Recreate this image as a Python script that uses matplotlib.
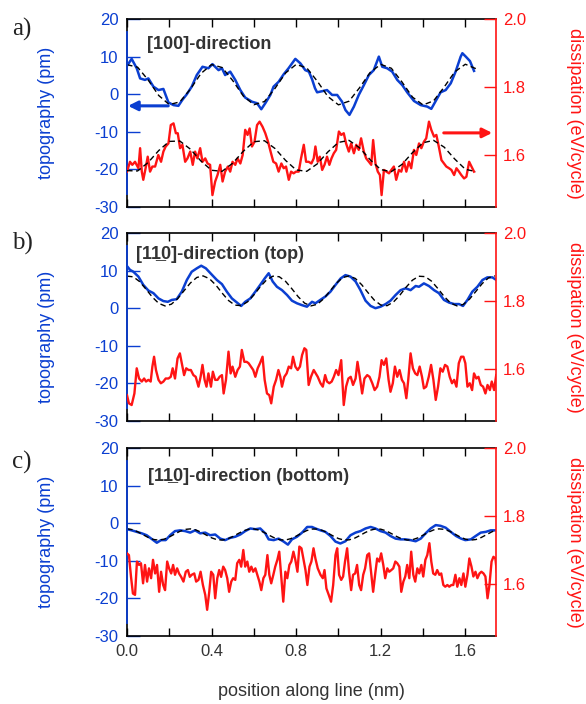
import numpy as np
import matplotlib
matplotlib.use('Agg')
import matplotlib.pyplot as plt
from matplotlib.ticker import MultipleLocator, FormatStrFormatter

plt.rcParams['font.family'] = ['Liberation Sans', 'DejaVu Sans']
plt.rcParams['axes.unicode_minus'] = False

BLUE = '#0b3fd1'
RED = '#ff1414'
GREY = '#333333'

# ---- panel a: [100]-direction ----
# topography (pm) as (position nm, value)
topo_a = [(0.003, 7.8), (0.022, 9.4), (0.046, 6.9), (0.062, 4.2), (0.085, 3.8), (0.101, 4.2), (0.125, 2.0),
          (0.149, 1.1), (0.172, 1.4), (0.196, -2.2), (0.220, -2.9), (0.243, -3.1), (0.262, -1.5), (0.283, 0.0),
          (0.306, 2.0), (0.330, 5.1), (0.357, 7.3), (0.385, 6.9), (0.404, 8.0), (0.433, 6.4), (0.449, 6.9),
          (0.464, 5.1), (0.488, 6.0), (0.512, 3.8), (0.536, 1.1), (0.559, -0.9), (0.591, -2.0), (0.615, -2.4),
          (0.635, -4.0), (0.654, -2.4), (0.678, -0.2), (0.693, 2.0), (0.717, 3.3), (0.741, 5.3), (0.764, 6.9),
          (0.796, 9.4), (0.820, 8.2), (0.843, 6.4), (0.860, 6.0), (0.875, 4.0), (0.889, 1.6), (0.899, 0.5),
          (0.923, 0.8), (0.946, 1.1), (0.970, -0.2), (0.994, -0.2), (1.017, -2.0), (1.033, -4.2), (1.052, -5.5),
          (1.073, -3.3), (1.096, -0.2), (1.120, 2.4), (1.144, 5.1), (1.167, 6.4), (1.191, 10.0), (1.207, 7.3),
          (1.230, 6.9), (1.254, 6.0), (1.278, 3.8), (1.302, 2.4), (1.325, 0.5), (1.357, -1.8), (1.389, -2.9),
          (1.420, -3.3), (1.439, -3.9), (1.460, -1.8), (1.483, 0.5), (1.507, 1.1), (1.531, 2.9), (1.554, 6.0),
          (1.578, 10.0), (1.586, 10.9), (1.602, 10.0), (1.622, 8.8), (1.641, 6.2)]
# dissipation (eV/cycle)
diss_a = [(0.000, 1.551), (0.014, 1.580), (0.025, 1.571), (0.038, 1.580), (0.054, 1.561), (0.062, 1.620),
          (0.070, 1.551), (0.077, 1.527), (0.088, 1.561), (0.098, 1.595), (0.109, 1.551), (0.120, 1.566),
          (0.133, 1.566), (0.148, 1.600), (0.161, 1.580), (0.172, 1.610), (0.183, 1.625), (0.196, 1.634),
          (0.207, 1.688), (0.220, 1.693), (0.231, 1.664), (0.240, 1.664), (0.251, 1.620), (0.262, 1.630),
          (0.275, 1.580), (0.286, 1.590), (0.299, 1.610), (0.311, 1.571), (0.322, 1.610), (0.333, 1.590),
          (0.346, 1.620), (0.357, 1.580), (0.370, 1.590), (0.381, 1.575), (0.393, 1.571), (0.404, 1.482),
          (0.417, 1.522), (0.428, 1.541), (0.441, 1.571), (0.452, 1.522), (0.464, 1.551), (0.477, 1.566),
          (0.488, 1.551), (0.499, 1.580), (0.512, 1.571), (0.523, 1.590), (0.536, 1.575), (0.547, 1.600),
          (0.559, 1.674), (0.570, 1.659), (0.580, 1.678), (0.591, 1.625), (0.603, 1.639), (0.615, 1.688),
          (0.627, 1.698), (0.641, 1.683), (0.654, 1.664), (0.667, 1.639), (0.679, 1.610), (0.692, 1.580),
          (0.705, 1.575), (0.717, 1.551), (0.730, 1.575), (0.741, 1.561), (0.752, 1.566), (0.765, 1.527),
          (0.776, 1.551), (0.788, 1.546), (0.799, 1.551), (0.812, 1.551), (0.823, 1.590), (0.836, 1.630),
          (0.847, 1.580), (0.859, 1.580), (0.872, 1.575), (0.883, 1.590),
          (0.891, 1.625), (0.902, 1.580), (0.912, 1.595), (0.923, 1.556), (0.934, 1.571), (0.946, 1.595),
          (0.957, 1.571), (0.967, 1.590), (0.978, 1.605), (0.989, 1.615), (1.002, 1.669), (1.013, 1.659),
          (1.025, 1.664), (1.036, 1.634), (1.049, 1.610), (1.060, 1.634), (1.073, 1.605), (1.084, 1.630),
          (1.096, 1.615), (1.107, 1.649), (1.120, 1.610), (1.131, 1.590), (1.144, 1.580), (1.155, 1.571),
          (1.164, 1.644), (1.175, 1.575), (1.186, 1.551), (1.196, 1.541), (1.204, 1.482), (1.215, 1.556),
          (1.227, 1.551), (1.239, 1.546), (1.250, 1.556), (1.262, 1.566), (1.273, 1.527), (1.286, 1.556),
          (1.297, 1.551), (1.310, 1.580), (1.321, 1.551), (1.333, 1.580), (1.344, 1.561), (1.357, 1.615),
          (1.368, 1.600), (1.381, 1.634), (1.392, 1.620), (1.404, 1.639), (1.415, 1.649), (1.428, 1.698),
          (1.439, 1.674), (1.452, 1.654), (1.463, 1.659), (1.476, 1.620), (1.487, 1.585), (1.499, 1.575),
          (1.510, 1.566), (1.523, 1.561), (1.534, 1.556), (1.547, 1.541), (1.558, 1.561), (1.570, 1.551),
          (1.581, 1.541), (1.594, 1.531), (1.605, 1.536), (1.618, 1.580), (1.629, 1.566), (1.641, 1.551)]
fit_x_a = np.linspace(0, 1.65, 34)
fit_topo_a = [7.85, 7.19, 3.79, -0.34, -2.77, -2.04, 1.37, 5.52, 7.89, 7.09,
              3.62, -0.49, -2.80, -1.95, 1.55, 5.65, 7.92, 7.00, 3.45, -0.62,
              -2.83, -1.86, 1.73, 5.79, 7.94, 6.90, 3.28, -0.77, -2.86, -1.76,
              1.91, 5.95, 7.97, 6.79]
fit_diss_a = [1.554, 1.553, 1.578, 1.613, 1.640, 1.641, 1.617, 1.582, 1.555, 1.552,
              1.576, 1.611, 1.639, 1.642, 1.619, 1.584, 1.556, 1.552, 1.574, 1.609,
              1.637, 1.643, 1.621, 1.586, 1.557, 1.551, 1.572, 1.607, 1.636, 1.643,
              1.623, 1.588, 1.558, 1.551]

# ---- panel b: [1-10]-direction (top) ----
topo_b = [(0.000, 11.2), (0.014, 10.2), (0.030, 9.7), (0.054, 8.4), (0.077, 6.2), (0.101, 4.7), (0.125, 4.0),
          (0.149, 2.6), (0.172, 1.9), (0.193, 1.7), (0.212, 2.2), (0.235, 2.4), (0.259, 4.4), (0.283, 7.5),
          (0.306, 9.7), (0.330, 10.6), (0.351, 11.3), (0.373, 10.6), (0.398, 9.1), (0.425, 7.5), (0.449, 6.4),
          (0.472, 4.4), (0.496, 2.6), (0.520, 1.5), (0.540, 0.6), (0.559, 1.7), (0.583, 2.6), (0.607, 4.4),
          (0.630, 6.2), (0.651, 7.9), (0.670, 9.3), (0.689, 7.1), (0.709, 5.7), (0.733, 4.8), (0.757, 3.5),
          (0.780, 2.0), (0.804, 1.3), (0.828, 0.8), (0.851, 0.4), (0.875, 1.7), (0.891, 1.3), (0.914, 2.2),
          (0.938, 3.1), (0.962, 4.4), (0.986, 6.2), (1.010, 7.9), (1.033, 8.8), (1.057, 8.4), (1.081, 7.1),
          (1.104, 4.8), (1.128, 2.0), (1.152, 0.6), (1.175, 0.0), (1.199, 0.4), (1.223, 1.1), (1.246, 2.0),
          (1.270, 3.5), (1.294, 4.8), (1.318, 5.3), (1.341, 4.8), (1.365, 5.9), (1.381, 5.7), (1.404, 6.6),
          (1.428, 5.9), (1.452, 4.8), (1.475, 4.0), (1.499, 2.2), (1.523, 1.5), (1.547, 1.1), (1.570, 1.1),
          (1.589, 0.6), (1.610, 2.2), (1.633, 4.4), (1.657, 5.7), (1.681, 7.5), (1.704, 8.2), (1.728, 8.2),
          (1.744, 7.6)]
diss_b = [(0.000, 1.523), (0.009, 1.499), (0.022, 1.494), (0.035, 1.528), (0.046, 1.602), (0.057, 1.572),
          (0.070, 1.563), (0.081, 1.572), (0.090, 1.563), (0.101, 1.568), (0.112, 1.563), (0.120, 1.607),
          (0.128, 1.636), (0.137, 1.597), (0.149, 1.568), (0.160, 1.558), (0.172, 1.563), (0.183, 1.572),
          (0.196, 1.572), (0.207, 1.577), (0.216, 1.602), (0.227, 1.572), (0.239, 1.631), (0.250, 1.646),
          (0.259, 1.617), (0.270, 1.582), (0.280, 1.602), (0.291, 1.597), (0.302, 1.597), (0.314, 1.582),
          (0.325, 1.577), (0.338, 1.548), (0.348, 1.577), (0.357, 1.612), (0.367, 1.568), (0.376, 1.548),
          (0.385, 1.587), (0.397, 1.548), (0.406, 1.592), (0.417, 1.568), (0.428, 1.568), (0.438, 1.577),
          (0.449, 1.582), (0.457, 1.528), (0.468, 1.568), (0.480, 1.651), (0.490, 1.587), (0.499, 1.607),
          (0.512, 1.577), (0.523, 1.597), (0.534, 1.607), (0.543, 1.656), (0.555, 1.621), (0.566, 1.621),
          (0.575, 1.617), (0.586, 1.607), (0.597, 1.597), (0.607, 1.577), (0.618, 1.602), (0.629, 1.617),
          (0.641, 1.636), (0.651, 1.568), (0.662, 1.528), (0.673, 1.523), (0.682, 1.499), (0.694, 1.548),
          (0.705, 1.568), (0.716, 1.597), (0.725, 1.577), (0.733, 1.548), (0.744, 1.577), (0.755, 1.587),
          (0.765, 1.607), (0.776, 1.602), (0.785, 1.636), (0.796, 1.607), (0.807, 1.597), (0.818, 1.607),
          (0.828, 1.641), (0.839, 1.661), (0.848, 1.656), (0.859, 1.553), (0.870, 1.577), (0.883, 1.597),
          (0.902, 1.577), (0.915, 1.558), (0.926, 1.548), (0.937, 1.582), (0.946, 1.563), (0.957, 1.558),
          (0.968, 1.563), (0.978, 1.577), (0.989, 1.597), (1.000, 1.582), (1.013, 1.626), (1.025, 1.494),
          (1.036, 1.548), (1.047, 1.572), (1.058, 1.577), (1.069, 1.553), (1.081, 1.572), (1.090, 1.621),
          (1.101, 1.577), (1.112, 1.528), (1.123, 1.572), (1.136, 1.582), (1.147, 1.577), (1.160, 1.558),
          (1.171, 1.538), (1.183, 1.548), (1.194, 1.577), (1.204, 1.626), (1.215, 1.612), (1.226, 1.631),
          (1.237, 1.568), (1.246, 1.533), (1.257, 1.558), (1.267, 1.607), (1.278, 1.577), (1.289, 1.597),
          (1.300, 1.568), (1.310, 1.558), (1.321, 1.514), (1.330, 1.568), (1.341, 1.646), (1.352, 1.602),
          (1.363, 1.587), (1.373, 1.582), (1.384, 1.607), (1.395, 1.577), (1.404, 1.543), (1.415, 1.548),
          (1.427, 1.577), (1.438, 1.612), (1.449, 1.568), (1.460, 1.509), (1.471, 1.548), (1.482, 1.602),
          (1.493, 1.592), (1.504, 1.612), (1.515, 1.607), (1.526, 1.577), (1.537, 1.558), (1.547, 1.568),
          (1.558, 1.548), (1.569, 1.617), (1.580, 1.636), (1.591, 1.636), (1.600, 1.617), (1.610, 1.548),
          (1.621, 1.558), (1.632, 1.538), (1.641, 1.587), (1.652, 1.572), (1.662, 1.577), (1.673, 1.553),
          (1.684, 1.548), (1.695, 1.528), (1.705, 1.553), (1.716, 1.538), (1.725, 1.563), (1.736, 1.538),
          (1.746, 1.582)]
fit_x_b = np.linspace(0, 1.74, 59)
fit_topo_b = [8.53, 8.34, 7.06, 5.06, 2.94, 1.29, 0.60, 1.07, 2.57, 4.66,
              6.72, 8.17, 8.59, 7.84, 6.16, 4.02, 2.05, 0.82, 0.69, 1.69,
              3.53, 5.69, 7.53, 8.52, 8.37, 7.13, 5.15, 3.02, 1.34, 0.61,
              1.04, 2.50, 4.57, 6.64, 8.14, 8.59, 7.90, 6.24, 4.11, 2.12,
              0.85, 0.67, 1.64, 3.44, 5.60, 7.46, 8.50, 8.40, 7.20, 5.24,
              3.10, 1.39, 0.62, 1.00, 2.42, 4.48, 6.56, 8.09, 8.60]

# ---- panel c: [1-10]-direction (bottom) ----
topo_c = [(0.000, -1.6), (0.022, -1.9), (0.046, -2.3), (0.070, -2.7), (0.093, -3.2), (0.117, -4.2), (0.141, -5.2),
          (0.161, -4.5), (0.183, -4.5), (0.204, -3.2), (0.227, -2.1), (0.251, -1.9), (0.275, -2.1), (0.299, -2.5),
          (0.322, -1.9), (0.346, -2.7), (0.370, -2.5), (0.393, -3.2), (0.417, -3.0), (0.441, -4.1), (0.464, -4.5),
          (0.488, -3.9), (0.512, -3.6), (0.536, -3.0), (0.559, -2.1), (0.583, -1.4), (0.607, -1.6), (0.630, -1.4),
          (0.654, -2.7), (0.670, -4.3), (0.694, -4.5), (0.717, -4.1), (0.741, -4.9), (0.761, -5.7), (0.780, -4.3),
          (0.804, -3.6), (0.828, -2.5), (0.852, -1.0), (0.875, -1.0), (0.891, -1.4), (0.915, -1.9), (0.938, -2.3),
          (0.962, -3.4), (0.986, -4.9), (1.009, -5.4), (1.033, -4.8), (1.057, -3.2), (1.081, -2.5), (1.104, -2.1),
          (1.128, -1.4), (1.152, -1.0), (1.175, -1.4), (1.199, -2.1), (1.223, -2.5), (1.246, -3.4), (1.270, -4.1),
          (1.294, -4.3), (1.318, -4.3), (1.341, -4.5), (1.365, -4.8), (1.389, -4.1), (1.412, -2.7), (1.436, -1.4),
          (1.460, -0.5), (1.483, -0.7), (1.507, -1.2), (1.531, -2.3), (1.556, -3.4), (1.580, -4.1), (1.600, -4.5),
          (1.626, -4.3), (1.649, -3.4), (1.673, -2.5), (1.697, -2.3), (1.720, -1.9), (1.744, -1.9)]
diss_c = [(0.000, 1.690), (0.009, 1.685), (0.019, 1.621), (0.028, 1.572), (0.038, 1.568), (0.047, 1.666),
          (0.057, 1.656), (0.066, 1.661), (0.076, 1.602), (0.085, 1.656), (0.095, 1.607), (0.104, 1.646),
          (0.114, 1.617), (0.123, 1.671), (0.133, 1.631), (0.142, 1.656), (0.152, 1.577), (0.161, 1.636),
          (0.171, 1.597), (0.180, 1.582), (0.190, 1.666), (0.199, 1.646), (0.209, 1.631), (0.218, 1.656),
          (0.227, 1.627), (0.237, 1.646), (0.246, 1.631), (0.256, 1.621), (0.267, 1.607), (0.278, 1.636),
          (0.288, 1.641), (0.297, 1.621), (0.306, 1.627), (0.318, 1.631), (0.327, 1.607), (0.338, 1.612),
          (0.348, 1.636), (0.359, 1.597), (0.370, 1.568), (0.379, 1.524), (0.389, 1.577), (0.398, 1.636),
          (0.408, 1.627), (0.417, 1.558), (0.427, 1.617), (0.436, 1.641), (0.445, 1.621), (0.455, 1.651),
          (0.464, 1.641), (0.474, 1.617), (0.483, 1.577), (0.493, 1.607), (0.502, 1.617), (0.512, 1.612),
          (0.521, 1.661), (0.531, 1.671), (0.540, 1.651), (0.550, 1.700), (0.559, 1.651), (0.569, 1.666),
          (0.578, 1.636), (0.588, 1.651), (0.597, 1.636), (0.607, 1.646), (0.616, 1.627), (0.626, 1.607),
          (0.635, 1.582), (0.645, 1.617), (0.654, 1.627), (0.664, 1.685), (0.673, 1.627), (0.682, 1.602),
          (0.692, 1.627), (0.701, 1.651), (0.711, 1.671), (0.720, 1.695), (0.730, 1.617), (0.739, 1.548),
          (0.749, 1.636), (0.758, 1.617), (0.768, 1.656), (0.777, 1.666), (0.787, 1.695), (0.796, 1.671),
          (0.806, 1.636), (0.815, 1.710), (0.825, 1.705), (0.834, 1.675), (0.844, 1.641), (0.853, 1.597),
          (0.863, 1.651), (0.872, 1.666), (0.882, 1.705),
          (0.891, 1.675), (0.902, 1.646), (0.915, 1.627), (0.926, 1.617), (0.934, 1.641), (0.943, 1.587),
          (0.954, 1.568), (0.965, 1.548), (0.975, 1.597), (0.986, 1.685), (0.994, 1.705), (1.003, 1.627),
          (1.013, 1.612), (1.022, 1.622), (1.031, 1.666), (1.041, 1.705), (1.050, 1.636), (1.060, 1.582),
          (1.069, 1.627), (1.079, 1.631), (1.088, 1.656), (1.098, 1.597), (1.107, 1.582), (1.117, 1.627),
          (1.126, 1.646), (1.136, 1.685), (1.145, 1.690), (1.155, 1.631), (1.164, 1.577), (1.174, 1.631),
          (1.183, 1.675), (1.193, 1.666), (1.202, 1.690), (1.212, 1.656), (1.221, 1.617), (1.231, 1.646),
          (1.240, 1.636), (1.250, 1.641), (1.259, 1.646), (1.269, 1.666), (1.278, 1.661), (1.288, 1.651),
          (1.297, 1.577), (1.307, 1.607), (1.316, 1.622), (1.325, 1.656), (1.335, 1.617), (1.344, 1.695),
          (1.354, 1.627), (1.363, 1.607), (1.373, 1.646), (1.382, 1.631), (1.392, 1.656), (1.401, 1.622),
          (1.411, 1.671), (1.420, 1.685), (1.430, 1.720), (1.439, 1.666), (1.448, 1.631), (1.458, 1.627),
          (1.467, 1.641), (1.477, 1.627), (1.486, 1.631), (1.496, 1.597), (1.505, 1.592), (1.515, 1.597),
          (1.524, 1.592), (1.534, 1.597), (1.543, 1.597), (1.553, 1.627), (1.562, 1.592), (1.572, 1.617),
          (1.581, 1.597), (1.591, 1.631), (1.600, 1.592), (1.610, 1.627), (1.619, 1.675), (1.629, 1.651),
          (1.638, 1.622), (1.648, 1.636), (1.657, 1.617), (1.667, 1.631), (1.676, 1.636), (1.686, 1.631),
          (1.695, 1.622), (1.705, 1.558), (1.714, 1.597), (1.724, 1.666), (1.733, 1.680), (1.742, 1.675),
          (1.749, 1.636)]
fit_x_c = np.linspace(0, 1.75, 71)
fit_topo_c = [-1.50, -1.71, -2.27, -3.03, -3.79, -4.33, -4.50, -4.26, -3.68, -2.90,
              -2.16, -1.65, -1.51, -1.78, -2.38, -3.16, -3.89, -4.38, -4.49, -4.19,
              -3.56, -2.78, -2.06, -1.60, -1.52, -1.85, -2.50, -3.29, -3.99, -4.43,
              -4.47, -4.10, -3.44, -2.65, -1.96, -1.56, -1.55, -1.94, -2.62, -3.41,
              -4.08, -4.46, -4.43, -4.02, -3.32, -2.53, -1.87, -1.53, -1.59, -2.03,
              -2.75, -3.53, -4.17, -4.48, -4.39, -3.91, -3.19, -2.41, -1.79, -1.51,
              -1.63, -2.13, -2.87, -3.65, -4.24, -4.50, -4.34, -3.81, -3.06, -2.30,
              -1.72]

titles = ['[100]-direction', '[11\u03320]-direction (top)', '[11\u03320]-direction (bottom)']
letters = ['a)', 'b)', 'c)']

fig = plt.figure(figsize=(5.86, 7.04), dpi=100)

L, W, H = 127 / 586, 369 / 586, 188 / 704
bottoms = [1 - 207 / 704, 1 - 421 / 704, 1 - 636 / 704]
title_pos = [(0.054, 0.867), (0.024, 0.888), (0.056, 0.847)]
letter_y = [29, 243, 462]
ylab_y = [0.5, 0.447, 0.5]

panels = [
    (topo_a, diss_a, fit_x_a, fit_topo_a, fit_diss_a),
    (topo_b, diss_b, fit_x_b, fit_topo_b, None),
    (topo_c, diss_c, fit_x_c, fit_topo_c, None),
]

for i, (topo, diss, fx, ftopo, fdiss) in enumerate(panels):
    ax = fig.add_axes([L, bottoms[i], W, H])
    tx, ty = np.array(topo).T
    ax.plot(tx, ty, color=BLUE, lw=1.8, zorder=3)
    ax.plot(fx, ftopo, color='black', lw=1.0, dashes=(4, 2.5), zorder=4)
    ax.set_xlim(0, 1.745)
    ax.set_ylim(-30, 20)
    ax.set_yticks(range(-30, 21, 10))
    ax.xaxis.set_major_locator(MultipleLocator(0.4))
    ax.xaxis.set_minor_locator(MultipleLocator(0.2))
    ax.xaxis.set_major_formatter(FormatStrFormatter('%.1f'))
    ax.tick_params(axis='y', direction='in', length=9.5, width=1.0, color=BLUE,
                   labelcolor=BLUE, labelsize=12, pad=6)
    ax.tick_params(axis='x', which='both', direction='in', length=6, width=1.0,
                   top=True, bottom=True, color='black', labelcolor=GREY,
                   labelsize=12, pad=6, labelbottom=(i == 2))
    for s in ['top', 'bottom', 'left']:
        ax.spines[s].set_color('black')
        ax.spines[s].set_linewidth(1.2)
    ax.spines['right'].set_visible(False)
    ax.axvline(0, 0.07, 0.93, color=BLUE, lw=1.3, clip_on=False, zorder=5)
    ax.set_ylabel('topography (pm)', color=BLUE, fontsize=13)
    ax.yaxis.label.set_va('center')
    ax.yaxis.set_label_coords(-0.217, ylab_y[i])
    ax.text(title_pos[i][0], title_pos[i][1], titles[i], transform=ax.transAxes,
            fontsize=13, fontweight='bold', color=GREY, va='center', ha='left')

    ax2 = ax.twinx()
    dx, dy = np.array(diss).T
    ax2.plot(dx, dy, color=RED, lw=1.7, zorder=3)
    if fdiss is not None:
        ax2.plot(fx, fdiss, color='black', lw=1.0, dashes=(4, 2.5), zorder=4)
    ax2.set_ylim(1.447, 2.0)
    ax2.set_yticks([1.6, 1.8, 2.0])
    ax2.yaxis.set_major_formatter(FormatStrFormatter('%.1f'))
    ax2.tick_params(axis='y', direction='in', length=9, width=1.0, color=RED,
                    labelcolor=RED, labelsize=12, pad=5)
    for s in ['top', 'bottom', 'left']:
        ax2.spines[s].set_visible(False)
    ax2.spines['right'].set_color(RED)
    ax2.spines['right'].set_linewidth(1.2)
    ax2.set_ylabel('dissipation (eV/cycle)', color=RED, fontsize=13, rotation=270)
    ax2.yaxis.label.set_va('center')
    ax2.yaxis.set_label_coords(1.214, 0.5)

    if i == 0:
        ax.annotate('', xy=(0.005, -3.1), xytext=(0.195, -3.1),
                    arrowprops=dict(arrowstyle='-|>', color=BLUE, lw=2.2, mutation_scale=14,
                                    shrinkA=0, shrinkB=0), zorder=6)
        ax2.annotate('', xy=(1.727, 1.665), xytext=(1.498, 1.665),
                     arrowprops=dict(arrowstyle='-|>', color=RED, lw=2.2, mutation_scale=14,
                                     shrinkA=0, shrinkB=0), zorder=6)

    fig.text(12 / 586, 1 - letter_y[i] / 704, letters[i], family='Liberation Serif',
             fontsize=18, va='center', ha='left', color='#222222')

fig.text((127 + 184.5) / 586, 1 - 691 / 704, 'position along line (nm)', ha='center',
         va='center', fontsize=13, color=GREY)

fig.savefig('out.png', dpi=100)
